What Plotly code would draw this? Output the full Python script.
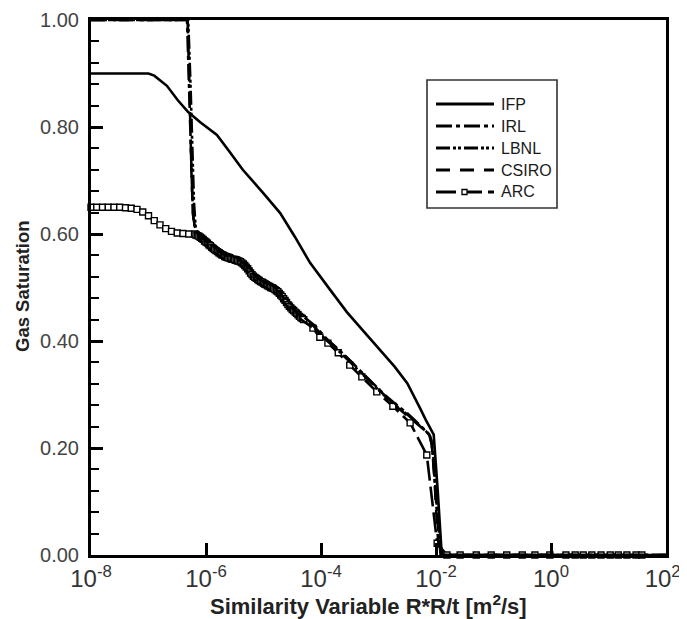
import plotly.graph_objects as go

# ---------------- data (x = log10 of similarity variable, y = gas saturation) ----------------
ifp_logx = [-8.0, -7.0, -6.9, -6.8, -6.68, -6.49, -6.31, -6.10, -5.95, -5.81, -5.6, -5.36,
            -5.0, -4.71, -4.45, -4.19, -3.85, -3.55, -3.25, -2.97, -2.72, -2.50, -2.38, -2.28,
            -2.18, -2.10, -2.04, -1.97, -1.90, 2.0]
ifp_y = [0.900, 0.900, 0.896, 0.888, 0.877, 0.850, 0.828, 0.809, 0.797, 0.785, 0.755, 0.720,
         0.676, 0.639, 0.594, 0.546, 0.497, 0.454, 0.417, 0.383, 0.352, 0.321, 0.297, 0.275,
         0.253, 0.236, 0.225, 0.120, 0.0, 0.0]

irl_logx = [-8.0, -6.33, -6.29, -6.26, -6.23, -6.20, -6.15, -6.10, -6.0, -5.9, -5.8, -5.7, -5.6,
            -5.5, -5.4, -5.3, -5.2, -5.1, -5.0, -4.9, -4.8, -4.7, -4.6, -4.5, -4.4, -4.3,
            -4.10, -3.90, -3.70, -3.50, -3.30, -3.10, -2.90, -2.70, -2.50, -2.35, -2.20, -2.12,
            -2.07, -2.02, -1.97, -1.92, 2.0]
irl_y = [1.0, 1.0, 0.86, 0.72, 0.64, 0.615, 0.605, 0.601, 0.592, 0.582, 0.574, 0.567, 0.562,
         0.559, 0.555, 0.545, 0.531, 0.522, 0.515, 0.509, 0.503, 0.493, 0.479, 0.466, 0.455, 0.445,
         0.428, 0.404, 0.385, 0.364, 0.343, 0.321, 0.300, 0.282, 0.265, 0.250, 0.235, 0.226,
         0.205, 0.130, 0.060, 0.0, 0.0]

lbnl_logx = [-8.0, -6.31, -6.27, -6.24, -6.21, -6.18, -6.14, -6.10, -6.0, -5.9, -5.8, -5.7, -5.6,
             -5.5, -5.4, -5.3, -5.2, -5.1, -5.0, -4.9, -4.8, -4.7, -4.6, -4.5, -4.4, -4.3,
             -4.08, -3.88, -3.68, -3.48, -3.28, -3.08, -2.88, -2.68, -2.48, -2.33, -2.18, -2.10,
             -2.05, -2.00, -1.95, -1.90, 2.0]
lbnl_y = [1.0, 1.0, 0.88, 0.75, 0.66, 0.612, 0.598, 0.588, 0.579, 0.569, 0.561, 0.554, 0.549,
          0.546, 0.542, 0.532, 0.518, 0.509, 0.502, 0.496, 0.490, 0.480, 0.466, 0.453, 0.444, 0.436,
          0.420, 0.399, 0.380, 0.359, 0.338, 0.316, 0.296, 0.278, 0.261, 0.246, 0.232, 0.222,
          0.190, 0.110, 0.045, 0.0, 0.0]

csiro_logx = [-8.0, -6.32, -6.28, -6.25, -6.22, -6.18, -6.14, -6.10, -6.0, -5.9, -5.8, -5.7, -5.6,
              -5.5, -5.4, -5.3, -5.2, -5.1, -5.0, -4.9, -4.8, -4.7, -4.6, -4.5, -4.4, -4.3,
              -4.15, -3.95, -3.75, -3.55, -3.35, -3.15, -2.95, -2.75, -2.55, -2.40, -2.25, -2.14,
              -2.08, -2.03, -1.98, -1.94, 2.0]
csiro_y = [1.0, 1.0, 0.84, 0.70, 0.63, 0.606, 0.600, 0.596, 0.587, 0.577, 0.569, 0.562, 0.557,
           0.554, 0.550, 0.540, 0.526, 0.517, 0.510, 0.504, 0.498, 0.488, 0.474, 0.461, 0.451, 0.442,
           0.430, 0.408, 0.389, 0.369, 0.347, 0.325, 0.303, 0.283, 0.265, 0.251, 0.237, 0.228,
           0.215, 0.150, 0.050, 0.0, 0.0]

arc_logx = [-8.0, -7.9, -7.8, -7.7, -7.6, -7.5, -7.4, -7.3, -7.2, -7.1, -7.0, -6.9, -6.8, -6.7,
            -6.6, -6.5, -6.4, -6.3, -6.2,
            -6.175, -6.150, -6.125, -6.100, -6.075, -6.050, -6.025, -6.000, -5.975, -5.950,
            -5.925, -5.900, -5.875, -5.850, -5.825, -5.800, -5.775, -5.750, -5.725, -5.700,
            -5.675, -5.650, -5.625, -5.600, -5.575, -5.550, -5.525, -5.500, -5.475, -5.450,
            -5.425, -5.400, -5.375, -5.350, -5.325, -5.300, -5.275, -5.250, -5.225, -5.200,
            -5.175, -5.150, -5.125, -5.100, -5.075, -5.050, -5.025, -5.000, -4.975, -4.950,
            -4.925, -4.900, -4.875, -4.850, -4.825, -4.800, -4.775, -4.750, -4.725, -4.700,
            -4.675, -4.650, -4.625, -4.600, -4.575, -4.550, -4.525, -4.500, -4.475, -4.450,
            -4.425, -4.400, -4.375, -4.350, -4.325, -4.300,
            -4.14, -4.02, -3.88, -3.70, -3.50, -3.29, -3.03, -2.75, -2.45, -2.16, -1.98,
            -1.81, -1.58, -1.30, -1.04, -0.77, -0.50, -0.28, -0.02, 0.26, 0.42, 0.56, 0.71,
            0.87, 1.03, 1.17, 1.32, 1.48, 1.58]
arc_y = [0.650, 0.650, 0.650, 0.650, 0.650, 0.650, 0.649, 0.648, 0.646, 0.641, 0.634, 0.625,
         0.617, 0.610, 0.605, 0.602, 0.601, 0.600, 0.600,
         0.598, 0.597, 0.596, 0.594, 0.592, 0.590, 0.587, 0.585, 0.583, 0.580,
         0.578, 0.575, 0.573, 0.571, 0.569, 0.567, 0.565, 0.563, 0.561, 0.560,
         0.558, 0.557, 0.556, 0.555, 0.554, 0.553, 0.553, 0.552, 0.551, 0.550,
         0.549, 0.548, 0.546, 0.544, 0.541, 0.538, 0.535, 0.531, 0.527, 0.524,
         0.521, 0.519, 0.517, 0.515, 0.513, 0.511, 0.510, 0.508, 0.506, 0.505,
         0.503, 0.502, 0.500, 0.499, 0.498, 0.496, 0.494, 0.492, 0.489, 0.486,
         0.483, 0.479, 0.476, 0.472, 0.468, 0.465, 0.462, 0.459, 0.457, 0.454,
         0.452, 0.449, 0.446, 0.444, 0.442, 0.440,
         0.424, 0.407, 0.396, 0.378, 0.355, 0.333, 0.305, 0.278, 0.247, 0.187, 0.022,
         0.0, 0.0, 0.0, 0.0, 0.0, 0.0, 0.0, 0.0, 0.0, 0.0, 0.0, 0.0,
         0.0, 0.0, 0.0, 0.0, 0.0, 0.0]

series_names = ["IFP", "IRL", "LBNL", "CSIRO", "ARC"]
x_tick_vals = [1e-8, 1e-6, 1e-4, 1e-2, 1e0, 1e2]
x_tick_text = ["10<sup>-8</sup>", "10<sup>-6</sup>", "10<sup>-4</sup>", "10<sup>-2</sup>",
               "10<sup>0</sup>", "10<sup>2</sup>&nbsp;"]
x_title = "Similarity Variable R*R/t [m<sup>2</sup>/s]"
y_title = "Gas Saturation"

# ---------------- styles ----------------
LW = 2.6
dash_styles = {
    "IFP": "solid",
    "IRL": "16px,4px,4px,4px",
    "LBNL": "14px,3px,3px,2px,3px,3px",
    "CSIRO": "14px,10px",
    "ARC": "20px,6px",
}
FONT = "Liberation Sans, Arial, sans-serif"


def to_x(logs):
    return [10 ** v for v in logs]


fig = go.Figure()
# ARC first so the other lines lie on top of its markers
fig.add_trace(go.Scatter(x=to_x(arc_logx), y=arc_y, mode="lines+markers", name="ARC",
                         showlegend=False, cliponaxis=False,
                         line=dict(color="black", width=LW, dash=dash_styles["ARC"]),
                         marker=dict(symbol="square", size=6, color="white",
                                     line=dict(color="black", width=1.4))))
for name, lx, ly in [("CSIRO", csiro_logx, csiro_y), ("LBNL", lbnl_logx, lbnl_y),
                     ("IRL", irl_logx, irl_y), ("IFP", ifp_logx, ifp_y)]:
    fig.add_trace(go.Scatter(x=to_x(lx), y=ly, mode="lines", name=name, showlegend=False,
                             line=dict(color="black", width=LW, dash=dash_styles[name])))

# ---------------- geometry (page has an 8px body margin) ----------------
OFF = 8
W, H = 687 - OFF, 619 - OFF
ML, MT = 91 - OFF, 20 - OFF
MR = W - (666 - OFF)
MB = H - (555 - OFF)
PW, PH = W - ML - MR, H - MT - MB


def px(xabs):
    return (xabs - OFF - ML) / PW


def py(yabs):
    return (H - MB - (yabs - OFF)) / PH


# legend drawn as shapes + text
fig.add_shape(type="rect", xref="paper", yref="paper",
              x0=px(427), x1=px(557), y0=py(208), y1=py(80),
              line=dict(color="#333", width=1.6), fillcolor="white", layer="above")
row_y = [104, 126, 148, 170, 192]
for name, yy in zip(series_names, row_y):
    fig.add_shape(type="line", xref="paper", yref="paper",
                  x0=px(436), x1=px(494), y0=py(yy), y1=py(yy),
                  line=dict(color="black", width=2.8, dash=dash_styles[name]), layer="above")
    fig.add_annotation(xref="paper", yref="paper", x=px(499), y=py(yy), text=name,
                       showarrow=False, xanchor="left", yanchor="middle",
                       font=dict(family=FONT, size=16, color="#1a1a1a"))
fig.add_shape(type="rect", xref="paper", yref="paper",
              x0=px(462), x1=px(467), y0=py(194.5), y1=py(189.5),
              line=dict(color="black", width=1.3), fillcolor="white", layer="above")

# axis titles as annotations for exact placement
fig.add_annotation(xref="paper", yref="paper", x=px(368), y=py(605), text=x_title,
                   showarrow=False, xanchor="center", yanchor="middle",
                   font=dict(family=FONT, size=22, color="#222", weight="bold"))
fig.add_annotation(xref="paper", yref="paper", x=px(22), y=py(286), text=y_title,
                   textangle=-90, showarrow=False, xanchor="center", yanchor="middle",
                   font=dict(family=FONT, size=18.5, color="#222", weight="bold"))

fig.update_layout(
    width=W, height=H,
    margin=dict(l=ML, r=MR, t=MT, b=MB, autoexpand=False),
    plot_bgcolor="white", paper_bgcolor="white",
    font=dict(family=FONT, color="#333"),
)
fig.update_xaxes(
    type="log", range=[-8, 2], tickvals=x_tick_vals, ticktext=x_tick_text,
    ticks="inside", ticklen=12, tickwidth=2.5, tickcolor="black",
    showline=True, linewidth=3, linecolor="black", mirror=True,
    showgrid=False, zeroline=False, ticklabeloverflow="allow",
    tickfont=dict(size=24, color="#333"),
)
fig.update_yaxes(
    range=[0, 1], dtick=0.2, tickformat=".2f",
    ticks="inside", ticklen=12, tickwidth=2.5, tickcolor="black",
    minor=dict(dtick=0.04, ticks="inside", ticklen=8, tickwidth=2, tickcolor="black"),
    showline=True, linewidth=3, linecolor="black", mirror=True,
    showgrid=False, zeroline=False, ticklabelstandoff=5,
    tickfont=dict(size=20, color="#444"),
)

fig.write_html("out.html")
